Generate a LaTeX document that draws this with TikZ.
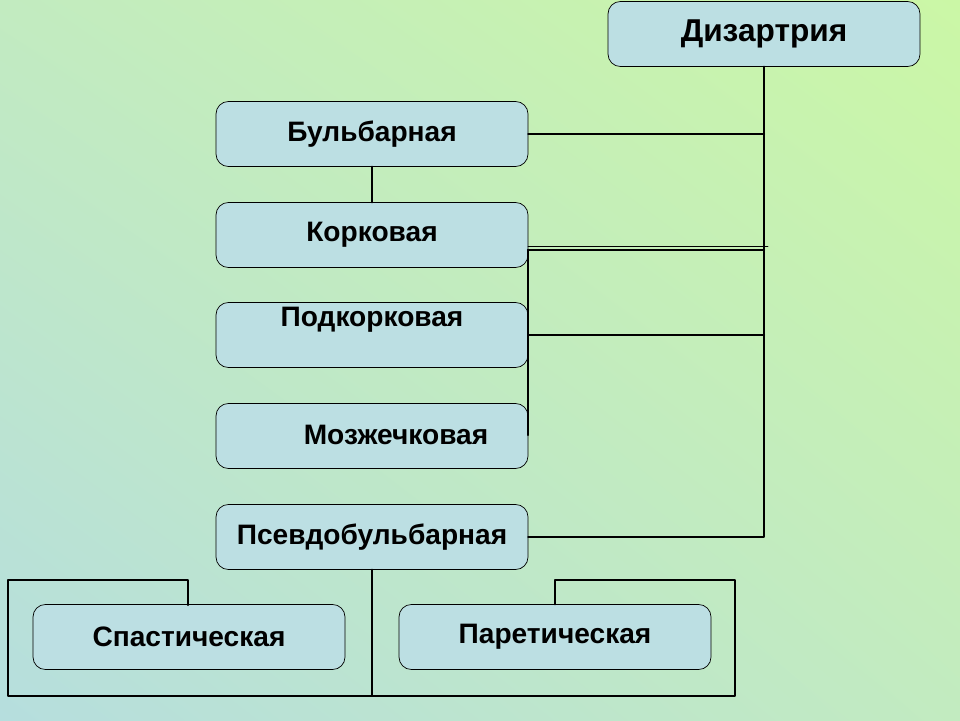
\documentclass[tikz,border=0pt]{standalone}
\usepackage{fontspec}
\setmainfont{Liberation Sans}
\usetikzlibrary{shadings}
\definecolor{boxfill}{HTML}{BCDFE3}
\definecolor{bgblue}{HTML}{B6DEDE}
\definecolor{bggreen}{HTML}{CBF7A6}
\definecolor{bgmid}{HTML}{C2EBC0}
\tikzset{kind/.style={draw=black,thin,fill=boxfill,rounded corners=7pt,minimum width=6.24cm,minimum height=1.3cm,font=\bfseries\fontsize{16}{18}\selectfont},
link/.style={line width=1.4pt}}
\begin{document}
\begin{tikzpicture}[line cap=round,line join=round,x=0.02cm,y=-0.02cm]
\shade[upper left=bgmid,upper right=bggreen,lower left=bgblue,lower right=bgmid] (0,0) rectangle (960,720);
\useasboundingbox (0,0) rectangle (960,720);
\node[kind,font=\bfseries\fontsize{18}{20}\selectfont] (dys) at (764,34) {Дизартрия};
\node[kind] (bulb) at (372,134) {Бульбарная};
\node[kind] (cort) at (372,235) {Корковая};
\node[kind] (subc) at (372,335) {};
\node at (372,320) {\bfseries\fontsize{16}{18}\selectfont Подкорковая};
\node[kind] (cereb) at (372,436) {};
\node at (396,435) {\bfseries\fontsize{16}{18}\selectfont Мозжечковая};
\node[kind] (pseudo) at (372,537) {Псевдобульбарная};
\node[kind] (spast) at (189,637) {Спастическая};
\node[kind] (paret) at (555,637) {Паретическая};
\coordinate (trunk) at (764,537);
% links on the right
\draw[link] (dys.south) -- (trunk) -- (pseudo.east);
\draw[link] (bulb.east) -- (bulb.east -| trunk);
\draw[thin] (528,246) -- (768,246);
\draw[link] (528,250) -- (764,250);
\draw[link] (528,250) -- (528,435);
\draw[link] (subc.east) -- (subc.east -| trunk);
\draw[link] (bulb.south) -- (cort.north);
% links at the bottom
\draw[link] (pseudo.south) -- (372,696) -- (8,696) -- (8,580) -- (188,580) -- (188,605);
\draw[link] (372,696) -- (735,696) -- (735,580) -- (555,580) -- (paret.north);
\end{tikzpicture}
\end{document}
